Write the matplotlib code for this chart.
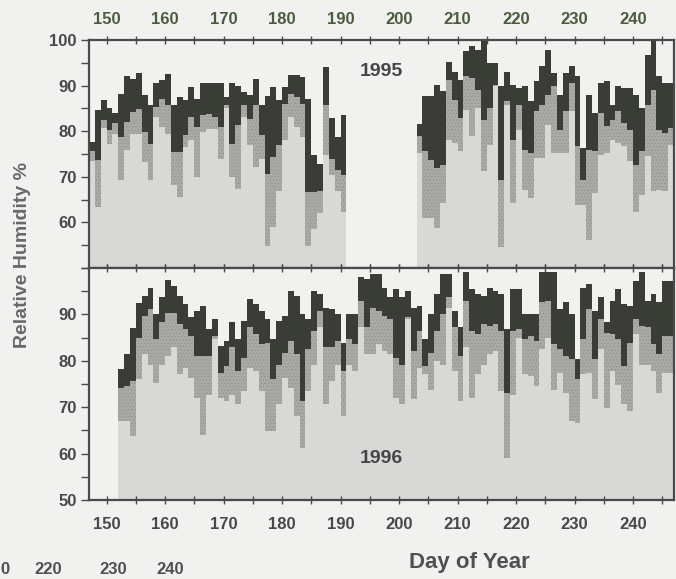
import numpy as np
import matplotlib
matplotlib.use("Agg")
import matplotlib.pyplot as plt
from matplotlib.ticker import MultipleLocator

plt.rcParams['font.family'] = ['Liberation Sans', 'DejaVu Sans']
plt.rcParams['hatch.linewidth'] = 0.5

# daily relative humidity: daily max / mean / min (%), one bar per day
days_95a = np.arange(147, 191)
max_95a = [77.6, 84.6, 86.9, 85.0, 83.9, 88.2, 92.0, 91.5, 92.8, 87.9, 85.7,
           90.6, 91.2, 92.5, 85.7, 87.5, 86.9, 89.6, 87.1, 90.6, 90.6, 90.6,
           90.6, 87.5, 90.6, 89.9, 88.6, 87.9, 91.5, 85.7, 87.7, 89.7, 86.8,
           89.7, 92.3, 92.3, 91.9, 87.1, 74.7, 72.9, 94.1, 82.8, 78.7, 83.5]
mean_95a = [75.6, 73.6, 82.5, 80.2, 81.7, 78.7, 82.0, 84.2, 84.9, 79.8, 77.3,
            85.4, 87.1, 85.7, 75.4, 75.4, 79.1, 83.1, 80.9, 83.5, 83.8, 83.1,
            80.9, 85.7, 77.3, 81.3, 85.7, 82.7, 85.7, 79.1, 70.7, 74.3, 76.9,
            86.0, 88.2, 87.5, 86.0, 66.6, 66.6, 66.9, 85.7, 74.0, 71.4, 70.3]
min_95a = [73.4, 63.3, 80.6, 77.3, 79.4, 69.2, 75.8, 79.4, 79.4, 73.2, 69.2,
           83.1, 80.9, 79.4, 68.1, 65.5, 76.5, 78.0, 69.9, 79.8, 80.5, 80.5,
           74.0, 85.0, 69.9, 67.4, 83.1, 76.9, 72.1, 74.0, 54.9, 58.9, 67.0,
           78.0, 83.1, 80.9, 78.7, 54.9, 58.6, 62.0, 74.7, 70.3, 67.0, 62.3]

days_95b = np.arange(203, 247)
max_95b = [81.6, 87.7, 87.7, 90.2, 88.8, 95.2, 92.9, 91.3, 97.5, 98.6, 97.9,
           99.7, 95.0, 95.0, 89.9, 92.9, 90.2, 89.5, 90.0, 86.6, 91.0, 94.2,
           97.8, 92.8, 88.0, 92.8, 94.2, 92.1, 76.3, 88.0, 84.0, 90.6, 91.0,
           85.8, 89.9, 89.5, 89.5, 88.0, 85.1, 96.8, 99.7, 92.1, 90.6, 90.6]
mean_95b = [78.9, 75.6, 73.7, 71.9, 72.6, 91.3, 86.9, 82.9, 92.1, 91.7, 89.1,
            82.5, 85.1, 90.2, 69.3, 86.6, 78.1, 85.8, 75.9, 75.2, 84.4, 85.8,
            88.0, 89.9, 80.3, 84.4, 90.6, 76.7, 69.3, 75.9, 75.6, 84.0, 81.1,
            82.5, 84.4, 81.9, 80.3, 72.6, 75.6, 85.8, 89.0, 80.3, 79.6, 80.7]
min_95b = [75.2, 60.9, 60.9, 58.7, 64.2, 78.1, 77.4, 75.6, 84.7, 78.9, 85.1,
           71.2, 77.0, 89.9, 54.7, 85.8, 64.2, 80.3, 67.1, 65.3, 74.1, 74.1,
           81.4, 75.2, 75.2, 75.2, 84.4, 63.8, 63.8, 56.2, 66.4, 74.8, 75.2,
           78.1, 77.4, 76.7, 73.4, 62.4, 66.0, 74.5, 66.8, 67.1, 66.8, 77.0]

days_96 = np.arange(152, 247)
max_96 = [78.2, 81.4, 87.0, 92.4, 94.0, 95.8, 90.1, 93.7, 97.5, 96.2, 94.0,
          92.2, 89.4, 90.8, 91.9, 86.8, 89.0, 83.2, 84.3, 88.3, 84.7, 88.6,
          93.3, 92.2, 90.8, 89.0, 84.7, 88.6, 89.7, 95.1, 94.0, 90.1, 89.0,
          95.1, 94.4, 91.5, 91.2, 90.1, 83.9, 90.1, 90.1, 98.0, 97.7, 98.7,
          98.7, 95.8, 93.7, 95.5, 93.7, 95.1, 91.5, 91.9, 84.7, 90.1, 94.4,
          98.7, 98.7, 90.8, 87.2, 99.1, 95.5, 94.4, 94.0, 95.8, 95.1, 94.4,
          86.8, 95.5, 95.5, 90.1, 90.1, 90.1, 99.1, 99.1, 99.1, 91.2, 92.6,
          90.1, 80.3, 95.8, 96.6, 90.8, 93.7, 88.3, 93.0, 95.5, 92.2, 91.9,
          97.3, 99.1, 93.0, 94.4, 92.6, 97.3, 97.3]
mean_96 = [74.2, 74.5, 75.6, 85.0, 89.7, 91.2, 84.7, 88.3, 90.4, 90.4, 87.9,
           86.8, 85.4, 81.0, 81.0, 81.0, 85.4, 77.4, 78.9, 82.9, 77.8, 80.7,
           87.2, 85.7, 83.6, 83.9, 76.0, 79.2, 81.8, 84.3, 81.4, 71.3, 82.5,
           86.5, 90.8, 82.9, 82.9, 84.3, 77.8, 84.7, 83.6, 93.0, 87.2, 91.5,
           90.8, 89.7, 89.0, 80.7, 79.2, 89.4, 82.1, 86.5, 78.9, 81.8, 86.5,
           90.1, 93.7, 87.2, 81.0, 93.0, 86.5, 85.7, 87.9, 87.5, 87.9, 86.5,
           73.1, 86.5, 86.8, 84.7, 85.4, 84.3, 92.6, 93.0, 83.6, 82.5, 81.0,
           80.3, 76.0, 84.7, 91.2, 80.3, 89.0, 86.1, 85.7, 84.7, 78.9, 83.9,
           89.0, 87.5, 87.2, 83.6, 81.4, 85.4, 85.4]
min_96 = [67.0, 67.0, 63.7, 76.0, 81.4, 79.2, 75.3, 79.2, 81.0, 82.9, 77.1,
          78.5, 76.4, 72.0, 64.1, 72.7, 84.7, 72.0, 71.3, 72.7, 70.6, 73.5,
          78.5, 77.8, 73.5, 64.8, 64.8, 70.6, 76.4, 74.2, 68.1, 61.2, 73.5,
          79.2, 87.2, 70.6, 75.6, 79.2, 68.1, 79.2, 77.8, 87.2, 81.4, 81.4,
          83.6, 82.1, 81.4, 72.0, 70.6, 89.0, 71.7, 78.5, 77.1, 73.8, 80.0,
          79.2, 91.5, 77.8, 71.3, 82.9, 72.0, 77.1, 79.2, 81.4, 82.1, 73.5,
          59.0, 72.7, 85.0, 77.1, 76.7, 74.5, 82.5, 85.0, 73.8, 77.4, 73.1,
          67.0, 66.6, 77.1, 77.4, 71.7, 82.5, 69.9, 77.8, 74.9, 70.6, 69.1,
          85.7, 79.2, 79.2, 77.8, 73.1, 77.4, 77.4]

BASE = 50
C_MAX = '#3a3d36'
C_MEAN = '#a9a9a7'
C_MEAN_DOT = '#929290'
C_MIN = '#d8d8d6'
BG = '#f1f1ef'
FRAME = '#4a4a4a'
TXT = '#484848'


def draw_rh(ax, days, hi, mid, lo):
    hi, mid, lo = map(np.asarray, (hi, mid, lo))
    ax.bar(days, lo - BASE, bottom=BASE, width=1.0, align='edge',
           color=C_MIN, linewidth=0)
    ax.bar(days, mid - lo, bottom=lo, width=1.0, align='edge',
           facecolor=C_MEAN, edgecolor=C_MEAN_DOT, hatch='.....',
           linewidth=0)
    ax.bar(days, hi - mid, bottom=mid, width=1.0, align='edge',
           color=C_MAX, linewidth=0)


fig = plt.figure(figsize=(6.76, 5.79), dpi=100, facecolor=BG)
ax1 = fig.add_axes([0.1317, 0.537, 0.8653, 0.394])
ax2 = fig.add_axes([0.1317, 0.1364, 0.8653, 0.4006])

draw_rh(ax1, days_95a, max_95a, mean_95a, min_95a)
draw_rh(ax1, days_95b, max_95b, mean_95b, min_95b)
draw_rh(ax2, days_96, max_96, mean_96, min_96)

for ax in (ax1, ax2):
    ax.set_facecolor(BG)
    ax.set_xlim(147, 247)
    ax.set_ylim(50, 100)
    ax.xaxis.set_major_locator(MultipleLocator(10))
    ax.xaxis.set_minor_locator(MultipleLocator(5))
    ax.yaxis.set_major_locator(MultipleLocator(10))
    ax.yaxis.set_minor_locator(MultipleLocator(5))
    for sp in ax.spines.values():
        sp.set_color(FRAME)
        sp.set_linewidth(1.6)
    ax.tick_params(axis='both', which='both', colors=FRAME, width=1.0,
                   length=6, labelsize=12, labelcolor=TXT)
    ax.tick_params(axis='y', which='both', direction='out', right=False,
                   pad=3)

# upper panel: day labels on top
ax1.tick_params(axis='x', which='both', top=True, bottom=True,
                labeltop=True, labelbottom=False, direction='inout', pad=6)
ax1.tick_params(axis='x', which='both', labelcolor='#4b5b3e')
ax1.set_yticks([60, 70, 80, 90, 100])

ax2.tick_params(axis='x', which='both', top=True, bottom=True,
                labeltop=False, labelbottom=True, direction='inout', pad=9)
ax2.set_yticks([50, 60, 70, 80, 90])

for ax in (ax1, ax2):
    for lab in ax.get_xticklabels() + ax.get_yticklabels():
        lab.set_fontweight('bold')

ax1.text(0.5, 0.86, '1995', transform=ax1.transAxes, ha='center',
         va='center', fontsize=14, fontweight='bold', color='#454545')
ax2.text(0.5, 0.18, '1996', transform=ax2.transAxes, ha='center',
         va='center', fontsize=14, fontweight='bold', color='#454545')

fig.text(0.033, 0.56, 'Relative Humidity %', rotation=90, ha='center',
         va='center', fontsize=14, fontweight='bold', color='#686868')
fig.text(0.695, 0.029, 'Day of Year', ha='center', va='center',
         fontsize=16, fontweight='bold', color='#505050')

# stray tick labels along the lower left edge
stray_labels = ['0', '220', '230', '240']
stray_x = [0.008, 0.072, 0.167, 0.252]
for lab, xx in zip(stray_labels, stray_x):
    fig.text(xx, 0.017, lab, ha='center', va='center', fontsize=12,
             fontweight='bold', color='#505050')

fig.savefig('out.png', dpi=100, facecolor=BG)
